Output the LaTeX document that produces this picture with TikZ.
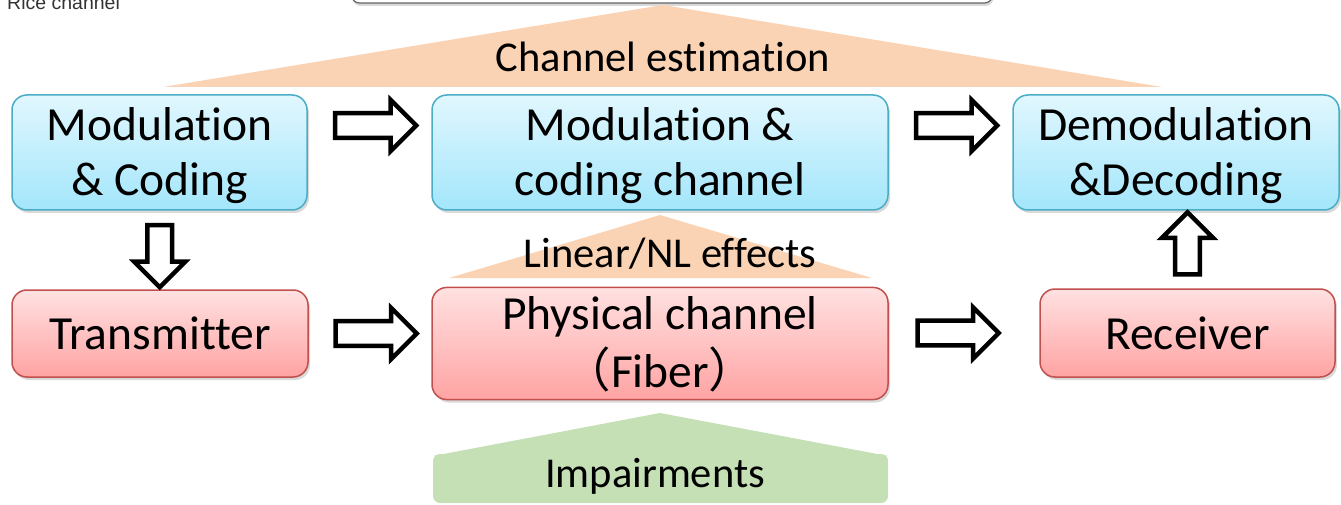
\documentclass[tikz,border=0pt]{standalone}
\usepackage{fontspec}
\setmainfont{Carlito}[Ligatures=NoCommon]
\newfontfamily\cjk{Noto Sans CJK SC}
\newfontfamily\arialf{Liberation Sans}
\usetikzlibrary{shapes.arrows,shadows,calc}
\definecolor{bluetop}{HTML}{E1F7FE}
\definecolor{bluebot}{HTML}{A3E6FB}
\definecolor{blueedge}{HTML}{4BACC6}
\definecolor{redtop}{HTML}{FFE1E1}
\definecolor{redbot}{HTML}{FFA3A3}
\definecolor{rededge}{HTML}{C0504D}
\definecolor{peach}{HTML}{FAD3B4}
\definecolor{sage}{HTML}{C5E0B4}
\newcommand\twolines[3]{\raisebox{#1}[\height][\depth]{\begin{tabular}{@{}c@{}}#2\\#3\end{tabular}}}
\begin{document}
\begin{tikzpicture}[x=1pt,y=-1pt,
 box/.style={draw, line width=1.5pt, rounded corners=15pt, align=center, inner sep=0pt,
   font=\fontsize{47.5}{55}\selectfont,
   drop shadow={shadow xshift=2pt, shadow yshift=-3pt, opacity=0.3}},
 bluebox/.style={box, draw=blueedge, top color=bluetop, bottom color=bluebot},
 redbox/.style={box, draw=rededge, top color=redtop, bottom color=redbot},
 blockarrow/.style={single arrow, draw=black, fill=white, line width=4.5pt,
   minimum width=51pt, minimum height=81pt, single arrow head extend=13pt,
   inner sep=10pt},
 annot/.style={font=\fontsize{42.5}{50}\selectfont, inner sep=0pt, anchor=base}
]
\useasboundingbox (0,0) rectangle (1341,505);

% cut-off top box and caption
\node[draw=gray!80!black, fill=white, line width=1.2pt, rounded corners=8pt, minimum width=641pt,
  minimum height=46pt, drop shadow={shadow xshift=1pt, shadow yshift=-3pt, opacity=0.3}]
  (topbox) at (672,-20) {};
\node[anchor=base west, font=\arialf\fontsize{19.5}{22}\selectfont, text=black!80, inner sep=0pt]
  (rice) at (7,10) {Rice channel};

% triangles
\fill[peach] (663,5) -- (1162,87) -- (163,87) -- cycle;
\node[annot] (ce) at (663,72) {Channel estimation};
\fill[peach] (660,215) -- (872,278) -- (449,278) -- cycle;
\node[annot] (nl) at (670,267) {Linear/NL effects};
\fill[sage] (433,456) -- (660,413) -- (888,456) -- cycle;
\fill[sage, rounded corners=7pt] (433,454) rectangle (888,503);
\node[annot] (imp) at (655,487) {Impairments};

% boxes
\node[bluebox, minimum width=295pt, minimum height=115pt] (mc) at (159.5,152.5) {\twolines{-5pt}{Modulation}{\& Coding}};
\node[bluebox, minimum width=456pt, minimum height=115pt] (mcc) at (660,152.5) {\twolines{-5pt}{Modulation \&}{coding channel}};
\node[bluebox, minimum width=326pt, minimum height=115pt] (dd) at (1176,152.5) {\twolines{-5pt}{Demodulation}{\&Decoding}};
\node[redbox, minimum width=296pt, minimum height=87pt] (tx) at (160,333.5) {Transmitter};
\node[redbox, minimum width=456pt, minimum height=107pt] (pc) at (660,343.5) {\twolines{-4pt}{Physical channel}{{\cjk （}Fiber{\cjk ）}}};
\node[redbox, minimum width=295pt, minimum height=88pt] (rx) at (1187.5,333) {Receiver};

% block arrows
\node[blockarrow] (a1) at ($(mc.east)!0.5!(mcc.west)+(0,-27)$) {};
\node[blockarrow] (a2) at ($(mcc.east)!0.5!(dd.west)+(0,-27)$) {};
\node[blockarrow, shape border rotate=270, minimum height=62pt] (a3) at ($(mc.south)!0.5!(tx.north)$) {};
\node[blockarrow] (a4) at ($(tx.east)!0.5!(pc.west |- tx.east)$) {};
\node[blockarrow] (a5) at ($(pc.east |- rx.west)!0.5!(rx.west)+(-12,0)$) {};
\node[blockarrow, shape border rotate=90, minimum height=62pt] (a6) at ($(rx.north)!0.5!(rx.north |- dd.south)$) {};
\end{tikzpicture}
\end{document}
